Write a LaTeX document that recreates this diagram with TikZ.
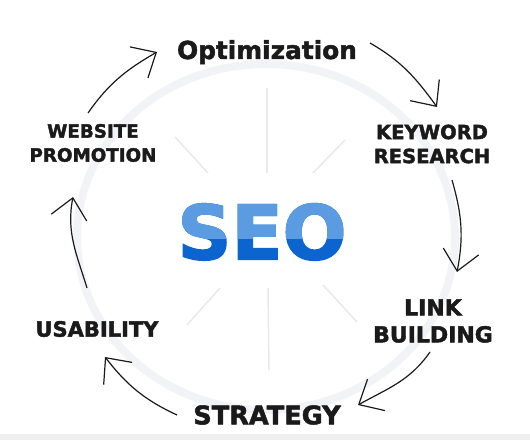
\documentclass[tikz,border=0pt]{standalone}
\usepackage{fontspec}
\setmainfont{Liberation Sans}
\newfontfamily\heavyfont{DejaVu Sans}[UprightFont={* Bold},FakeBold=2]
\usetikzlibrary{arrows.meta,calc}
\definecolor{seoLight}{HTML}{5A9BE1}
\definecolor{seoDark}{HTML}{0C65CF}
\definecolor{ringGray}{HTML}{F2F3F6}
\definecolor{spokeGray}{HTML}{E8E9EE}
\definecolor{bandGray}{HTML}{EFEFEF}
\definecolor{inkBlack}{HTML}{1A1A1A}

\begin{document}
\begin{tikzpicture}[
    x=1pt,y=1pt,
    stage/.style={font=\heavyfont\fontsize{18.3}{24}\selectfont,
                  align=center,inner sep=0pt,text=inkBlack},
    cyc/.style={-{Straight Barb[length=20pt,width=36pt]},
                line width=1.2pt,inkBlack},
    spoke/.style={spokeGray,line width=1.5pt},
    seo/.style={font=\heavyfont\fontsize{75}{75}\selectfont,inner sep=0pt}
  ]
  \useasboundingbox (0,0) rectangle (530,440);
  %% Background ring, spokes and bottom band
  \fill[bandGray] (0,0) rectangle (530,6);
  \draw[ringGray,line width=8pt] (266,203) ellipse [x radius=189,y radius=173];
  \draw[spoke] (267,352) -- (267,267);
  \draw[spoke] (175,303) -- (208,267);
  \draw[spoke] (345,300) -- (313,267);
  \draw[spoke] (220,152) -- (187,115);
  \draw[spoke] (323,155) -- (357,118);
  \draw[spoke] (268,152) -- (269,70);
  %% Centre word
  \node[seo,text=seoDark] (seo) at (262,208) {SEO};
  \begin{scope}
    \clip (150,202) rectangle (380,270);
    \node[seo,text=seoLight] (seotop) at (seo.center) {SEO};
  \end{scope}
  %% Cycle stages
  \node[stage,font=\heavyfont\fontsize{24.8}{30}\selectfont,anchor=base] (opt) at (267,381) {Optimization};
  \node[stage,font=\heavyfont\fontsize{19.5}{24}\selectfont] (key) at (432,296) {KEYWORD\\RESEARCH};
  \node[stage,font=\heavyfont\fontsize{22}{27}\selectfont] (link) at (433,119) {LINK\\BUILDING};
  \node[stage,font=\heavyfont\fontsize{25.6}{30}\selectfont] (strat) at (267,25) {STRATEGY};
  \node[stage,font=\heavyfont\fontsize{21}{26}\selectfont] (usab) at (97,111) {USABILITY};
  \node[stage] (web) at (93,297) {WEBSITE\\PROMOTION};
  %% Cycle arrows
  \draw[cyc] ($(web)+(-5,30)$) to[out=55,in=210] ($(opt.base)+(-110,7)$);
  \draw[cyc] ($(opt.base)+(103,16)$) to[out=-30,in=126] ($(key)+(5,37)$);
  \draw[cyc] ($(key)+(20,-36)$) to[out=-74,in=79] ($(link)+(24,49)$);
  \draw[cyc] ($(link)+(-3,-31)$) to[out=-125,in=29] ($(strat)+(91,10)$);
  \draw[cyc] ($(strat)+(-90,0)$) to[out=155,in=-52] ($(usab)+(8,-28)$);
  \draw[cyc] ($(usab)+(-10,41)$) to[out=107,in=259] ($(web)+(-20,-54)$);
\end{tikzpicture}
\end{document}
